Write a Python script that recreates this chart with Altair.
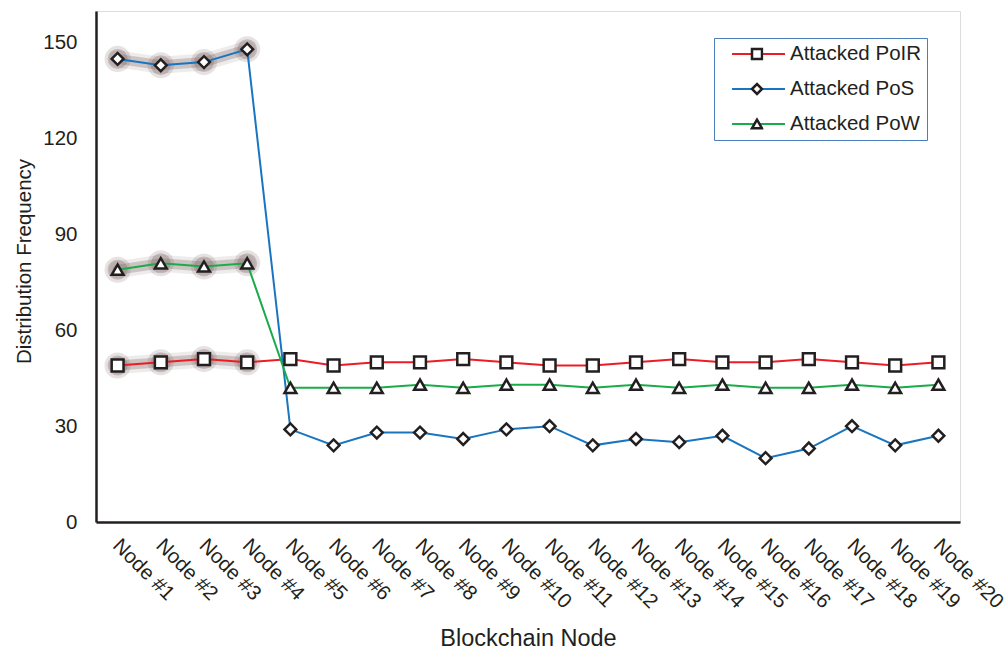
import altair as alt
import pandas as pd

# x categories (tick labels)
nodes = [
    "Node #1", "Node #2", "Node #3", "Node #4", "Node #5",
    "Node #6", "Node #7", "Node #8", "Node #9", "Node #10",
    "Node #11", "Node #12", "Node #13", "Node #14", "Node #15",
    "Node #16", "Node #17", "Node #18", "Node #19", "Node #20",
]

# series
series_names = ["Attacked PoIR", "Attacked PoS", "Attacked PoW"]
series_colors = ["#ed1c24", "#1a75c0", "#1bab4b"]
series_shapes = ["square", "diamond", "triangle-up"]

poir_values = [49, 50, 51, 50, 51, 49, 50, 50, 51, 50, 49, 49, 50, 51, 50, 50, 51, 50, 49, 50]
pos_values = [145, 143, 144, 148, 29, 24, 28, 28, 26, 29, 30, 24, 26, 25, 27, 20, 23, 30, 24, 27]
pow_values = [79, 81, 80, 81, 42, 42, 42, 43, 42, 43, 43, 42, 43, 42, 43, 42, 42, 43, 42, 43]

# the attacked nodes, drawn with a halo
highlighted_nodes = ["Node #1", "Node #2", "Node #3", "Node #4"]

rows = []
for name, values in zip(series_names, [poir_values, pos_values, pow_values]):
    for node, v in zip(nodes, values):
        rows.append({"Node": node, "Series": name, "Marker": name, "Value": v})
df = pd.DataFrame(rows)

INK = "#231f20"
HALO = "#765d5d"
FONT = "Liberation Sans"

x_enc = alt.X(
    "Node:N",
    sort=nodes,
    scale=alt.Scale(type="point", padding=0.5),
    axis=alt.Axis(
        title="Blockchain Node",
        labelAngle=45,
        labelAlign="left",
        labelBaseline="top",
        labelPadding=13,
        labelOffset=5,
        labelFontSize=20.5,
        labelColor=INK,
        ticks=False,
        domainWidth=2.5,
        domainColor=INK,
        titleFontSize=23.5,
        titleFontWeight="normal",
        titleColor=INK,
        titleY=104,
        titleBaseline="top",
    ),
)
y_enc = alt.Y(
    "Value:Q",
    scale=alt.Scale(domain=[0, 160], nice=False),
    axis=alt.Axis(
        title="Distribution Frequency",
        values=[0, 30, 60, 90, 120, 150],
        grid=False,
        ticks=False,
        labelFontSize=20.5,
        labelPadding=19,
        labelColor=INK,
        domainWidth=2.5,
        domainColor=INK,
        titleFontSize=20.5,
        titleFontWeight="normal",
        titleColor=INK,
        titleX=-62,
        titleY=250,
    ),
)

base = alt.Chart(df).encode(x=x_enc, y=y_enc)
halo = base.transform_filter(alt.FieldOneOfPredicate(field="Node", oneOf=highlighted_nodes))

halo_wide = halo.mark_line(color=HALO, strokeWidth=17, opacity=0.12, strokeCap="round").encode(detail="Series:N")
halo_mid = halo.mark_line(color=HALO, strokeWidth=10, opacity=0.28, strokeCap="round").encode(detail="Series:N")
halo_pts_outer = halo.mark_circle(color=HALO, size=680, opacity=0.18)
halo_pts_inner = halo.mark_circle(color=HALO, size=400, opacity=0.3)

lines = base.mark_line(strokeWidth=2).encode(
    color=alt.Color(
        "Series:N",
        scale=alt.Scale(domain=series_names, range=series_colors),
        legend=alt.Legend(
            title=None,
            orient="none",
            legendX=618,
            legendY=27,
            padding=5,
            strokeColor="#4a7ebb",
            symbolType="stroke",
            symbolSize=2800,
            symbolStrokeWidth=2,
            symbolOffset=12,
            labelOffset=4,
            labelFontSize=20.5,
            labelColor=INK,
            clipHeight=22,
            rowPadding=13,
            zindex=1,
        ),
    ),
    detail="Series:N",
)

# marker-only legend, laid over the middle of each legend line
marker_legend = alt.Legend(
    title=None,
    orient="none",
    legendX=618,
    legendY=27,
    padding=5,
    symbolSize=100,
    symbolFillColor="white",
    symbolStrokeWidth=2.5,
    symbolOpacity=1,
    symbolOffset=31.5,
    labelExpr="''",
    labelFontSize=1,
    labelOffset=0,
    clipHeight=22,
    rowPadding=13,
    zindex=2,
)

points = base.mark_point(
    filled=False, fill="white", strokeWidth=2.5, size=140, opacity=1
).encode(
    shape=alt.Shape("Marker:N", scale=alt.Scale(range=series_shapes), legend=marker_legend),
    stroke=alt.Stroke("Marker:N", scale=alt.Scale(range=[INK, INK, INK]), legend=marker_legend),
)

chart = (
    alt.layer(halo_wide, halo_mid, halo_pts_outer, halo_pts_inner, lines, points)
    .resolve_legend(color="independent", shape="independent", stroke="independent")
    .properties(
        width=864,
        height=511,
        autosize=alt.AutoSizeParams(type="none"),
        padding={"left": 96, "top": 11, "right": 48, "bottom": 132},
        background="white",
    )
    .configure_view(stroke=INK, strokeWidth=1.5)
    .configure(font=FONT)
)

chart.save("out.html", embed_options={"renderer": "svg", "actions": False})
